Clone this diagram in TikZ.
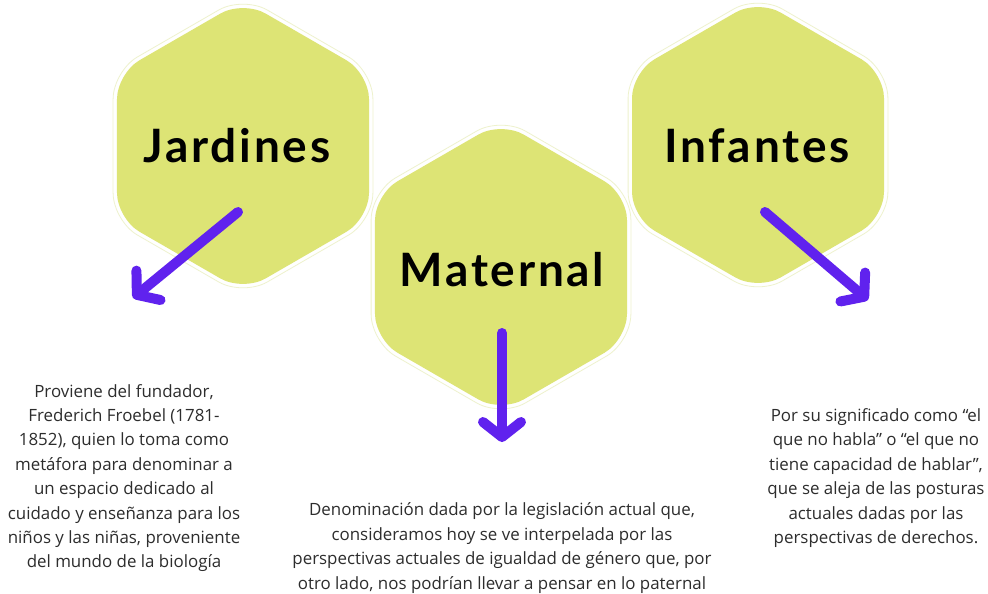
\documentclass[tikz,border=0pt]{standalone}
\usepackage{fontspec}
\setmainfont{Open Sans}
\newfontfamily\titlefont[LetterSpace=6]{Lato}
\usetikzlibrary{shapes.geometric,arrows.meta}
\definecolor{hexfill}{RGB}{221,228,117}
\definecolor{hexline}{RGB}{238,242,205}
\definecolor{arrowpurple}{RGB}{96,34,238}
\definecolor{bodytext}{RGB}{45,45,45}
\tikzset{
  hexa/.style={regular polygon, regular polygon sides=6, regular polygon rotate=30,
    minimum size=291pt, inner sep=0pt, rounded corners=26pt, fill=hexfill},
  hexring/.style={regular polygon, regular polygon sides=6, regular polygon rotate=30,
    minimum size=300pt, inner sep=0pt, rounded corners=28pt, draw=hexline, line width=0.8pt},
  title/.style={inner sep=0pt, font=\titlefont\bfseries\fontsize{46}{46}\selectfont},
  desc/.style={align=center, text=bodytext, inner sep=0pt,
    font=\fontsize{16.9}{24.4}\selectfont},
  arr/.style={draw=arrowpurple, line width=10pt, line cap=round,
    -{Straight Barb[length=15pt,width=38pt,round]}}
}
\begin{document}
\begin{tikzpicture}[x=1pt,y=1pt,yscale=-1]
\useasboundingbox[fill=white] (0,0) rectangle (988,594);

% Hexagons
\node[hexring] (jardRing) at (243,146) {};
\node[hexring] (matRing) at (501,267) {};
\node[hexring] (infRing) at (758,145) {};
\node[hexa] (jard) at (243,146) {};
\node[hexa] (mat) at (501,267) {};
\node[hexa] (inf) at (758,145) {};

% Titles
\node[title] (jardTitle) at (237,146) {Jardines};
\node[title] (matTitle) at (502,270) {Maternal};
\node[title] (infTitle) at (757,146) {Infantes};

% Arrow ends
\coordinate (jS) at (238,212);
\coordinate (jE) at (133,298);
\coordinate (mS) at (502,333);
\coordinate (mE) at (502,442);
\coordinate (iS) at (765,212);
\coordinate (iE) at (868,300);

% Arrows
\draw[arr] (jS) -- (jE);
\draw[arr] (mS) -- (mE);
\draw[arr] (iS) -- (iE);

% Text Node
\node[desc] (jText) at (124,478) {Proviene del fundador,\\Frederich Froebel (1781-\\1852), quien lo toma como\\metáfora para denominar a\\un espacio dedicado al\\cuidado y enseñanza para los\\niños y las niñas, proveniente\\del mundo de la biología};
% Text Node
\node[desc] (mText) at (502,548) {Denominación dada por la legislación actual que,\\consideramos hoy se ve interpelada por las\\perspectivas actuales de igualdad de género que, por\\otro lado, nos podrían llevar a pensar en lo paternal};
% Text Node
\node[desc] (iText) at (876,478) {Por su significado como “el\\que no habla” o “el que no\\tiene capacidad de hablar”,\\que se aleja de las posturas\\actuales dadas por las\\perspectivas de derechos.};

\end{tikzpicture}
\end{document}
